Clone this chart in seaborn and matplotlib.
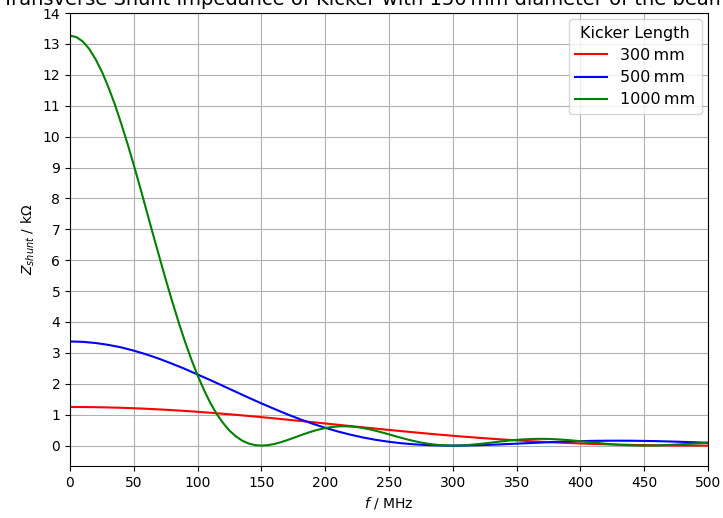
import numpy as np
import pandas as pd
import matplotlib
matplotlib.use("Agg")
import matplotlib.pyplot as plt
import seaborn as sns

# frequency grids in MHz
freq = list(range(0, 501, 10))
freq_fine = list(range(0, 501, 5))

# shunt impedance in kOhm
z_300 = [1.25, 1.248, 1.243, 1.235, 1.224, 1.209, 1.192, 1.171, 1.148, 1.122,
         1.094, 1.063, 1.030, 0.996, 0.959, 0.921, 0.882, 0.841, 0.800, 0.758,
         0.716, 0.674, 0.631, 0.589, 0.548, 0.507, 0.467, 0.428, 0.390, 0.353,
         0.318, 0.285, 0.253, 0.223, 0.195, 0.169, 0.145, 0.123, 0.103, 0.085,
         0.068, 0.054, 0.042, 0.031, 0.022, 0.015, 0.009, 0.005, 0.002, 0.0005,
         0.0]
z_500 = [3.37, 3.358, 3.32, 3.26, 3.18, 3.073, 2.95, 2.808, 2.65, 2.483,
         2.30, 2.120, 1.93, 1.740, 1.55, 1.366, 1.19, 1.017, 0.858, 0.710,
         0.576, 0.456, 0.351, 0.260, 0.184, 0.123, 0.075, 0.040, 0.017, 0.004,
         0.0, 0.0035, 0.013, 0.027, 0.044, 0.063, 0.082, 0.100, 0.118, 0.132,
         0.144, 0.153, 0.158, 0.159, 0.157, 0.152, 0.144, 0.133, 0.121, 0.107,
         0.092]
z_1000 = [13.27, 13.22, 13.08, 12.84, 12.51, 12.10, 11.61, 11.06, 10.44, 9.78,
          9.08, 8.35, 7.60, 6.85, 6.11, 5.38, 4.68, 4.01, 3.38, 2.80,
          2.27, 1.80, 1.38, 1.02, 0.73, 0.484, 0.30, 0.158, 0.067, 0.016,
          0.0, 0.014, 0.051, 0.106, 0.173, 0.247, 0.323, 0.396, 0.463, 0.521,
          0.567, 0.601, 0.621, 0.626, 0.618, 0.598, 0.566, 0.524, 0.475, 0.421,
          0.363, 0.304, 0.247, 0.193, 0.143, 0.100, 0.064, 0.036, 0.016, 0.004,
          0.0, 0.004, 0.014, 0.029, 0.049, 0.072, 0.096, 0.121, 0.145, 0.166,
          0.185, 0.200, 0.211, 0.217, 0.219, 0.215, 0.207, 0.195, 0.180, 0.162,
          0.142, 0.121, 0.099, 0.079, 0.059, 0.042, 0.027, 0.015, 0.007, 0.002,
          0.0, 0.002, 0.006, 0.013, 0.023, 0.034, 0.045, 0.058, 0.070, 0.081,
          0.091]

lengths = ["300\u2009mm", "500\u2009mm", "1000\u2009mm"]
colors = ["red", "blue", "green"]

df = pd.DataFrame({
    "f": freq + freq + freq_fine,
    "Z": z_300 + z_500 + z_1000,
    "length": [lengths[0]] * len(freq) + [lengths[1]] * len(freq) + [lengths[2]] * len(freq_fine),
})

fig = plt.figure(figsize=(7.23, 5.18), dpi=100)
ax = fig.add_axes([0.0968, 0.1004, 0.8825, 0.8745])

sns.lineplot(data=df, x="f", y="Z", hue="length", hue_order=lengths,
             palette=colors, ax=ax, linewidth=1.5)

ax.set_xlim(0, 500)
ax.set_ylim(-0.66, 14)
ax.set_yticks(range(0, 15))
ax.set_xticks(range(0, 501, 50))
ax.grid(True)
ax.set_axisbelow(True)

ax.set_xlabel("$f$ / MHz")
ax.set_ylabel("$Z_{shunt}$ / k\u03a9")
# title is wider than the canvas in the original, so it gets clipped at the edges
ax.set_title("Transverse Shunt Impedance of Kicker with 150\u2009mm diameter of the beam pipe",
             fontsize=14)
ax.legend(title="Kicker Length", loc="upper right", fontsize=11.5, title_fontsize=11.5,
          borderaxespad=0.4, labelspacing=0.45)

fig.savefig("out.png", dpi=100)
